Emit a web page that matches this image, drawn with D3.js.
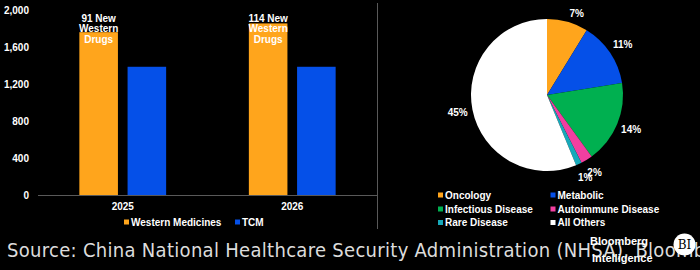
<!DOCTYPE html>
<html>
<head>
<meta charset="utf-8">
<script src="https://cdn.jsdelivr.net/npm/d3@7"></script>
<style>
    body { margin: 0; background: #000; }
</style>
</head>
<body>
<div id="c1"></div>
<script>
// data
const years = ["2025", "2026"];
const seriesNames = ["Western Medicines", "TCM"];
const westernValues = [1765, 1860];
const tcmValues = [1390, 1390];
const barNotes = [["91 New", "Western", "Drugs"], ["114 New", "Western", "Drugs"]];
const yTicks = [0, 400, 800, 1200, 1600, 2000];

const pieCategories = ["Oncology", "Metabolic", "Infectious Disease", "Autoimmune Disease", "Rare Disease", "All Others"];
const pieValues = [7, 11, 14, 2, 1, 45];
const pieLabels = ["7%", "11%", "14%", "2%", "1%", "45%"];

const sourceText = "Source: China National Healthcare Security Administration (NHSA), Bloomberg Intelligence";

function c1() {
    const width = 700
    const height = 270
    const sans = "'Liberation Sans', Arial, sans-serif"
    const barColors = ["#FFA51C", "#0550E8"]
    const pieColors = ["#FFA51C", "#0550E8", "#00B050", "#F23FA0", "#17A9BA", "#FFFFFF"]

    let svg = d3.select("#c1")
        .append("svg")
        .attr("width", width)
        .attr("height", height)
        .style("font-family", sans);

    svg.append("rect")
        .attr("width", "100%")
        .attr("height", "100%")
        .attr("fill", "#000");

    // ---- bar chart ----
    const plot = {l: 38, r: 377, t: 10.5, b: 195}
    let x0 = d3.scaleBand().domain(years).range([plot.l, plot.r])
        .paddingInner(0.488).paddingOuter(0.244);
    let x1 = d3.scaleBand().domain(seriesNames).range([0, x0.bandwidth()]).paddingInner(0.2);
    let y = d3.scaleLinear().domain([0, 2000]).range([plot.b, plot.t]);

    let bars = svg.append("g");
    let table = years.map(function(yr, i) {
        return {year: yr, values: [westernValues[i], tcmValues[i]]};
    });

    let groups = bars.selectAll("g.grp")
        .data(table)
        .enter()
        .append("g")
        .attr("class", "grp")
        .attr("transform", d => `translate(${x0(d.year)},0)`);

    groups.selectAll("rect")
        .data(d => d.values.map((v, k) => ({key: seriesNames[k], v: v, k: k})))
        .enter()
        .append("rect")
        .attr("x", d => x1(d.key))
        .attr("y", d => y(d.v))
        .attr("width", x1.bandwidth())
        .attr("height", d => y(0) - y(d.v))
        .attr("fill", d => barColors[d.k]);

    // notes on the western bars
    groups.each(function(d, i) {
        let t = d3.select(this).append("text")
            .attr("x", x1(seriesNames[0]) + x1.bandwidth() / 2)
            .attr("y", y(1800))
            .attr("text-anchor", "middle")
            .attr("fill", "#fff")
            .attr("font-size", "10px")
            .attr("font-weight", "bold");
        barNotes[i].forEach(function(line, j) {
            t.append("tspan")
                .attr("x", x1(seriesNames[0]) + x1.bandwidth() / 2)
                .attr("dy", j === 0 ? "-0.7em" : "1.05em")
                .text(line);
        });
    });

    // y axis
    let axisY = d3.axisLeft(y).tickValues(yTicks).tickFormat(d3.format(",")).tickSize(0).tickPadding(0);
    let gy = svg.append("g")
        .attr("transform", `translate(${29},0)`)
        .call(axisY);
    gy.select(".domain").remove();
    gy.selectAll("text")
        .attr("fill", "#fff")
        .attr("font-size", "10px")
        .attr("font-weight", "bold")
        .style("font-family", sans);

    // x axis
    let axisX = d3.axisBottom(x0).tickSize(0).tickPadding(8);
    let gx = svg.append("g")
        .attr("transform", `translate(0,${plot.b})`)
        .call(axisX);
    gx.select(".domain").attr("stroke", "#595959").attr("d", `M${plot.l},0.5H${plot.r}`);
    gx.selectAll("text")
        .attr("fill", "#fff")
        .attr("font-size", "10px")
        .attr("font-weight", "bold")
        .style("font-family", sans);

    // bar legend
    const barLegendX = [124, 235]
    seriesNames.forEach(function(name, i) {
        let g = svg.append("g").attr("transform", `translate(${barLegendX[i]},222)`);
        g.append("rect").attr("x", 0).attr("y", -2.5).attr("width", 5).attr("height", 5).attr("fill", barColors[i]);
        g.append("text").attr("x", 7).attr("y", 3.5)
            .attr("fill", "#fff").attr("font-size", "10px").attr("font-weight", "bold")
            .text(name);
    });

    // divider
    svg.append("line")
        .attr("x1", 377.5).attr("x2", 377.5)
        .attr("y1", 3).attr("y2", 229)
        .attr("stroke", "#595959");

    // ---- pie ----
    const cx = 547, cy = 95, r = 76
    let pie = d3.pie().sort(null).value(d => d);
    let arcs = pie(pieValues);
    let arc = d3.arc().innerRadius(0).outerRadius(r);
    let labelArc = d3.arc().innerRadius(91).outerRadius(91);

    let pg = svg.append("g").attr("transform", `translate(${cx},${cy})`);
    pg.selectAll("path")
        .data(arcs)
        .enter()
        .append("path")
        .attr("d", arc)
        .attr("fill", (d, i) => pieColors[i]);

    pg.selectAll("text")
        .data(arcs)
        .enter()
        .append("text")
        .attr("transform", function(d, i) {
            let c = labelArc.centroid(d);
            // the first label sits a bit further round the rim
            if (i === 0) c = [c[0] + 5, c[1] + 6];
            return `translate(${c})`;
        })
        .attr("dy", "0.35em")
        .attr("text-anchor", "middle")
        .attr("fill", "#fff")
        .attr("font-size", "10px")
        .attr("font-weight", "bold")
        .text((d, i) => pieLabels[i]);

    // pie legend
    const legCols = [438, 550.5]
    const legRows = [195, 209, 222.5]
    pieCategories.forEach(function(name, i) {
        let g = svg.append("g")
            .attr("transform", `translate(${legCols[i % 2]},${legRows[Math.floor(i / 2)]})`);
        g.append("rect").attr("x", 0).attr("y", -2.5).attr("width", 5).attr("height", 5).attr("fill", pieColors[i]);
        g.append("text").attr("x", 7).attr("y", 3.5)
            .attr("fill", "#fff").attr("font-size", "10px").attr("font-weight", "bold")
            .text(name);
    });

    // ---- footer ----
    svg.append("text")
        .attr("x", 7)
        .attr("y", 256.5)
        .attr("fill", "#dcdcdc")
        .attr("font-size", "20px")
        .style("letter-spacing", "0.3px")
        .style("font-family", "'DejaVu Sans Condensed', 'DejaVu Sans', sans-serif")
        .style("font-stretch", "condensed")
        .text(sourceText);

    let logo = svg.append("g");
    logo.append("text").attr("x", 590).attr("y", 245)
        .attr("fill", "#fff").attr("font-size", "11px").attr("font-weight", "bold")
        .text("Bloomberg");
    logo.append("text").attr("x", 592).attr("y", 262)
        .attr("fill", "#fff").attr("font-size", "11px").attr("font-weight", "bold")
        .text("Intelligence");
    logo.append("circle").attr("cx", 684.5).attr("cy", 244.5).attr("r", 11).attr("fill", "#fff");
    logo.append("text").attr("x", 684.5).attr("y", 249)
        .attr("text-anchor", "middle")
        .attr("fill", "#000").attr("font-size", "12px")
        .style("font-family", "'DejaVu Serif', 'Liberation Serif', serif")
        .text("BI");
}

c1();
</script>
</body>
</html>
